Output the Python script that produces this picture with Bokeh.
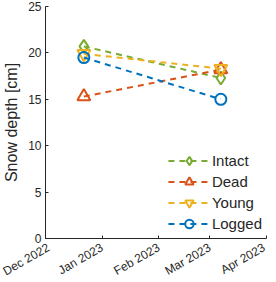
import datetime as dt
from bokeh.plotting import figure
from bokeh.models import FixedTicker, DatetimeTickFormatter, Range1d, Legend, LegendItem
from bokeh.embed import file_html
from bokeh.resources import INLINE
import math

dates = [dt.datetime(2022, 12, 22), dt.datetime(2023, 3, 7)]
series = ["Intact", "Dead", "Young", "Logged"]
intact = [20.7, 17.3]
dead = [15.3, 18.2]
young = [19.9, 18.3]
logged = [19.5, 15.0]
values = [intact, dead, young, logged]
colors = ["#77AC30", "#D95319", "#EDB120", "#0072BD"]
markers = ["diamond", "triangle", "inverted_triangle", "circle"]
tick_dates = [dt.datetime(2022, 12, 1), dt.datetime(2023, 1, 1), dt.datetime(2023, 2, 1),
              dt.datetime(2023, 3, 1), dt.datetime(2023, 4, 1)]

FONT = "Liberation Sans"
p = figure(frame_width=221, frame_height=232, x_axis_type="datetime", output_backend="svg",
           toolbar_location=None, min_border_left=38, min_border_right=1,
           min_border_top=6, min_border_bottom=30)
p.x_range = Range1d(tick_dates[0], tick_dates[-1])
p.y_range = Range1d(0, 25)

items = []
for name, vals, c, m in zip(series, values, colors, markers):
    l = p.line(dates, vals, line_color=c, line_width=2, line_dash="6 5")
    s = p.scatter(dates, vals, marker=m, size=13 if m != "circle" else 11,
                  line_color=c, line_width=2, fill_alpha=0)
    items.append(LegendItem(label=name, renderers=[l, s]))

legend = Legend(items=items, location="bottom_right", border_line_alpha=0,
                background_fill_alpha=0, label_text_font=FONT, label_text_font_size="15px",
                label_text_color="#262626", glyph_width=42, glyph_height=21,
                spacing=0, padding=1, margin=3, label_standoff=2, label_height=21)
p.add_layout(legend)

p.xaxis.ticker = FixedTicker(ticks=[d.timestamp() * 1000 for d in tick_dates])
p.xaxis.formatter = DatetimeTickFormatter(months="%b %Y", days="%b %Y", years="%b %Y")
p.xaxis.major_label_orientation = math.pi / 6
p.yaxis.ticker = FixedTicker(ticks=[0, 5, 10, 15, 20, 25])
p.yaxis.axis_label = "Snow depth [cm]"
for ax in (p.xaxis, p.yaxis):
    ax.major_tick_in = 3
    ax.major_tick_out = 0
    ax.minor_tick_line_alpha = 0
    ax.axis_line_color = "#262626"
    ax.major_tick_line_color = "#262626"
    ax.major_label_text_font = FONT
    ax.major_label_text_font_size = "12px"
    ax.major_label_text_color = "#262626"
    ax.axis_label_text_font = FONT
    ax.axis_label_text_font_size = "16px"
    ax.axis_label_text_font_style = "normal"
    ax.axis_label_text_color = "#262626"
    ax.major_label_standoff = 4
    ax.axis_label_standoff = 5
p.xaxis.major_label_standoff = 8
p.grid.visible = False
p.outline_line_alpha = 0

open("out.html", "w").write(file_html(p, INLINE))
